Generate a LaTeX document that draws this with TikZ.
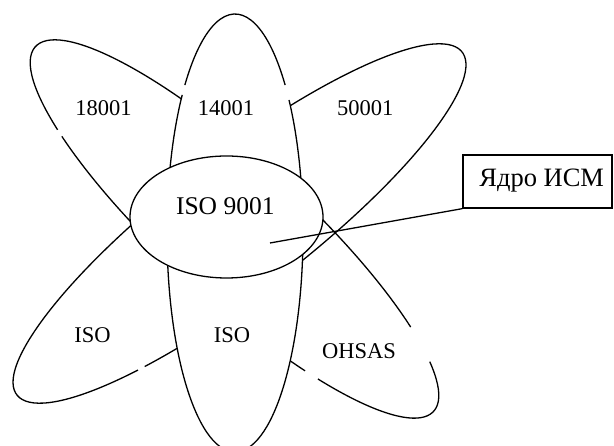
\documentclass[tikz,border=0pt]{standalone}
\usepackage{fontspec}
\setmainfont{Liberation Serif}
\begin{document}
\begin{tikzpicture}[x=1pt,y=1pt,
  outline/.style={draw=black, line width=1.3pt},
  lbl/.style={anchor=base, inner sep=0pt, font=\fontsize{22.5}{26}\selectfont},
  biglbl/.style={anchor=base, inner sep=0pt, font=\fontsize{25.5}{30}\selectfont}]
\useasboundingbox (0,0) rectangle (614,446);
\clip (0,0) rectangle (614,446);

% diagonal petal: 18001 (upper left) to OHSAS (lower right)
\begin{scope}[shift={(234.5,217)}, rotate=-42.5]
  \draw[outline] (43.4:270pt and 68pt) arc[start angle=43.4, end angle=223, x radius=270pt, y radius=68pt];
  \draw[outline] (225.3:270pt and 68pt) arc[start angle=225.3, end angle=303.2, x radius=270pt, y radius=68pt];
  \draw[outline] (307.1:270pt and 68pt) arc[start angle=307.1, end angle=390.1, x radius=270pt, y radius=68pt];
\end{scope}

% diagonal petal: 50001 (upper right) to ISO (lower left)
\begin{scope}[shift={(239.5,222.5)}, rotate=37.6]
  \draw[outline] (234.7:281pt and 68pt) arc[start angle=234.7, end angle=592.8, x radius=281pt, y radius=68pt];
\end{scope}

% vertical petal, covering the diagonals where they pass beneath it
\fill[white] (235,213) ellipse [x radius=68pt, y radius=219pt];
\begin{scope}[shift={(235,213)}]
  \draw[outline] (42.5:68pt and 219pt) arc[start angle=42.5, end angle=137.5, x radius=68pt, y radius=219pt];
  \draw[outline] (140.9:68pt and 219pt) arc[start angle=140.9, end angle=397.4, x radius=68pt, y radius=219pt];
\end{scope}

% core ellipse
\draw[outline, fill=white] (226.5,229) ellipse [x radius=96.5pt, y radius=61pt];

% petal labels
\node[lbl] (l18001) at (103.5,330) {18001};
\node[lbl] (l14001) at (226,330) {14001};
\node[lbl] (l50001) at (365.3,330) {50001};
\node[biglbl] (lcore) at (225.3,231) {ISO 9001};
\node[lbl] (lisoa) at (92.5,103.3) {ISO};
\node[lbl] (lisob) at (232,103.3) {ISO};
\node[lbl] (lohsas) at (359,87.7) {OHSAS};

% callout
\node[draw, line width=1.3pt, minimum width=149pt, minimum height=53pt, inner sep=0pt] (box) at (537.5,264.5) {};
\node[biglbl, font=\fontsize{26.5}{30}\selectfont] (lbox) at (541.7,259.3) {Ядро ИСМ};
\coordinate (corept) at (270,203);
\draw[outline] (corept) -- (box.south west);
\end{tikzpicture}
\end{document}
